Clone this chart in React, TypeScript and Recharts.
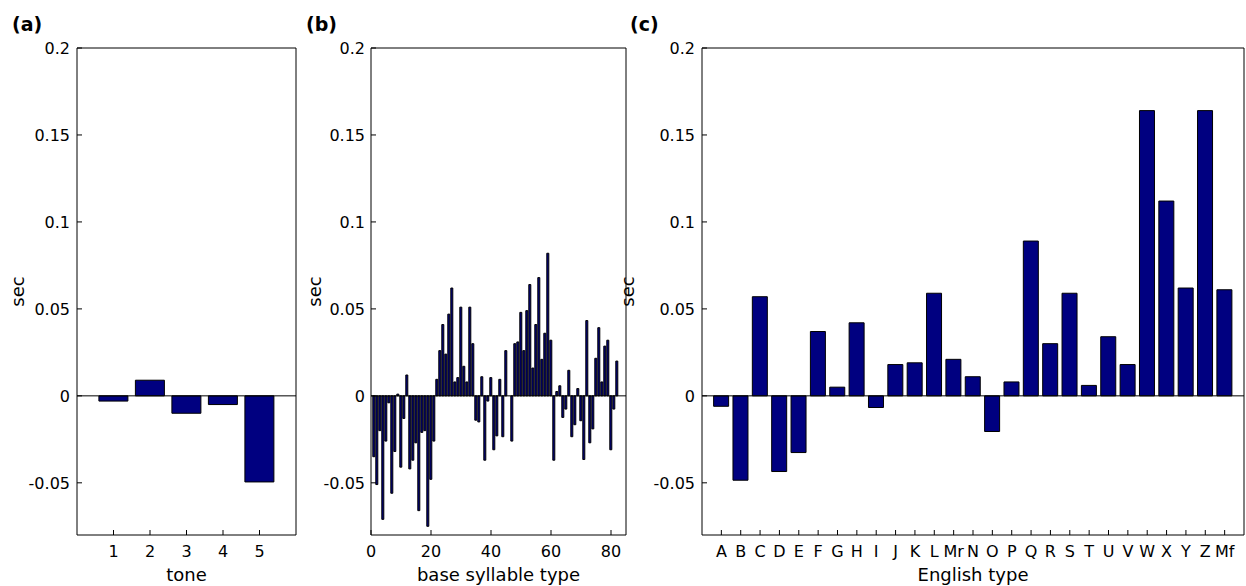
import { Bar, BarChart, Label, ReferenceLine, XAxis, YAxis } from 'recharts'

// duration shift (sec) shared by all three panels
const secTicks = [-0.05, 0, 0.05, 0.1, 0.15, 0.2]
const secDomain: [number, number] = [-0.08, 0.2]

// (a) tone
const tones = [1, 2, 3, 4, 5]
const toneShift = [-0.003, 0.009, -0.01, -0.005, -0.0495]

// (b) base syllable type, 1..82
const baseTicks = [0, 20, 40, 60, 80]
const baseShift = [
  -0.035, -0.051, -0.02, -0.071, -0.026, -0.004, -0.056, -0.032, 0.001, -0.041,
  -0.013, 0.012, -0.042, -0.037, -0.027, -0.066, -0.021, -0.02, -0.075, -0.048,
  -0.026, 0.0095, 0.026, 0.041, 0.024, 0.047, 0.062, 0.008, 0.0105, 0.051,
  0.017, 0.008, 0.051, 0.03, -0.014, -0.015, 0.011, -0.037, -0.003, 0.0105,
  -0.031, -0.023, 0.0095, -0.0235, 0.026, 0, -0.026, 0.03, 0.031, 0.048,
  0.026, 0.049, 0.064, 0.016, 0.041, 0.068, 0.021, 0.036, 0.082, 0.032,
  -0.037, 0.0025, 0.0058, -0.0124, -0.0076, 0.0147, -0.0235, -0.0166, 0.0042, -0.0143,
  -0.0366, 0.0433, -0.027, -0.019, 0.0216, 0.0392, 0.008, 0.0286, 0.032, -0.031,
  -0.0076, 0.02,
]

// (c) English type
const englishTypes = [
  'A', 'B', 'C', 'D', 'E', 'F', 'G', 'H', 'I', 'J', 'K', 'L', 'Mr', 'N',
  'O', 'P', 'Q', 'R', 'S', 'T', 'U', 'V', 'W', 'X', 'Y', 'Z', 'Mf',
]
const englishShift = [
  -0.006, -0.0485, 0.057, -0.0435, -0.0326, 0.037, 0.005, 0.042, -0.0067, 0.018,
  0.019, 0.059, 0.021, 0.011, -0.0205, 0.008, 0.089, 0.03, 0.059, 0.006,
  0.034, 0.018, 0.164, 0.112, 0.062, 0.164, 0.061,
]

const NAVY = '#000080'
const FONT = 'DejaVu Sans'
const Y_AXIS_W = 60
const X_AXIS_H = 40
const CHART_H = 586

type Row = { x: number; v: number }

type PanelProps = {
  left: number
  width: number
  margin: { top: number; right: number; bottom: number; left: number }
  rows: Row[]
  xDomain: [number, number]
  xTicks: number[]
  xFormat?: (n: number) => string
  xLabel: string
  title: string
  titleX: number
  yTickMargin: number
  secGap: number
}

function Panel(p: PanelProps) {
  const plotLeft = p.margin.left + Y_AXIS_W
  const plotRight = p.width - p.margin.right - 1
  const plotTop = p.margin.top + 1
  const plotBottom = CHART_H - p.margin.bottom - X_AXIS_H
  const plotMid = (plotLeft + plotRight) / 2
  const tick = { fill: '#000', fontSize: 16, fontFamily: FONT }

  return (
    <div style={{ position: 'absolute', left: p.left, top: 0 }}>
      <BarChart width={p.width} height={CHART_H} data={p.rows} margin={p.margin} barCategoryGap="10%">
        <XAxis
          type="number"
          dataKey="x"
          domain={p.xDomain}
          allowDataOverflow
          ticks={p.xTicks}
          interval={0}
          tickFormatter={p.xFormat}
          tick={tick}
          tickSize={-5}
          tickMargin={16}
          height={X_AXIS_H}
          stroke="#000"
        >
          <Label
            content={() => (
              <text x={plotMid} y={581} textAnchor="middle" fontFamily={FONT} fontSize={18} fill="#000">
                {p.xLabel}
              </text>
            )}
          />
        </XAxis>
        <XAxis
          xAxisId="top"
          orientation="top"
          type="number"
          domain={p.xDomain}
          allowDataOverflow
          ticks={p.xTicks}
          interval={0}
          tick={false}
          tickSize={-5}
          height={1}
          stroke="#000"
        >
          <Label
            content={() => (
              <text x={p.titleX} y={31} fontFamily={FONT} fontWeight="bold" fontSize={19} fill="#000">
                {p.title}
              </text>
            )}
          />
        </XAxis>
        <YAxis
          type="number"
          domain={secDomain}
          allowDataOverflow
          ticks={secTicks}
          interval={0}
          tick={tick}
          tickSize={-5}
          tickMargin={p.yTickMargin}
          width={Y_AXIS_W}
          stroke="#000"
        >
          <Label
            content={() => {
              const x = plotLeft - p.secGap
              const y = (plotTop + plotBottom) / 2
              return (
                <text
                  x={x}
                  y={y}
                  transform={`rotate(-90 ${x} ${y})`}
                  textAnchor="middle"
                  dominantBaseline="central"
                  fontFamily={FONT}
                  fontSize={18}
                  fill="#000"
                >
                  sec
                </text>
              )
            }}
          />
        </YAxis>
        <YAxis
          yAxisId="right"
          orientation="right"
          type="number"
          domain={secDomain}
          allowDataOverflow
          ticks={secTicks}
          interval={0}
          tick={false}
          tickSize={-5}
          width={1}
          stroke="#000"
        />
        <Bar dataKey="v" fill={NAVY} stroke="#000" strokeWidth={1} isAnimationActive={false} />
        <ReferenceLine y={0} stroke="#000" strokeWidth={1} />
      </BarChart>
    </div>
  )
}

export default function App() {
  const toneRows = tones.map((t, i) => ({ x: t, v: toneShift[i] }))
  const baseRows = baseShift.map((v, i) => ({ x: i + 1, v }))
  const englishRows = englishShift.map((v, i) => ({ x: i + 1, v }))

  return (
    <div
      style={{
        position: 'absolute',
        left: 0,
        top: 0,
        width: 1246,
        height: 586,
        background: '#fff',
        overflow: 'hidden',
      }}
    >
      <Panel
        left={0}
        width={310}
        margin={{ top: 47, right: 13, bottom: 11, left: 17 }}
        rows={toneRows}
        xDomain={[0, 6]}
        xTicks={tones}
        xLabel="tone"
        title="(a)"
        titleX={12}
        yTickMargin={12}
        secGap={60}
      />
      <Panel
        left={300}
        width={340}
        margin={{ top: 47, right: 13, bottom: 11, left: 11 }}
        rows={baseRows}
        xDomain={[0, 85]}
        xTicks={baseTicks}
        xLabel="base syllable type"
        title="(b)"
        titleX={6}
        yTickMargin={11}
        secGap={57}
      />
      <Panel
        left={610}
        width={636}
        margin={{ top: 47, right: 1, bottom: 11, left: 32 }}
        rows={englishRows}
        xDomain={[0, 28]}
        xTicks={englishRows.map((r) => r.x)}
        xFormat={(n) => englishTypes[n - 1] ?? ''}
        xLabel="English type"
        title="(c)"
        titleX={20}
        yTickMargin={12}
        secGap={75}
      />
    </div>
  )
}
